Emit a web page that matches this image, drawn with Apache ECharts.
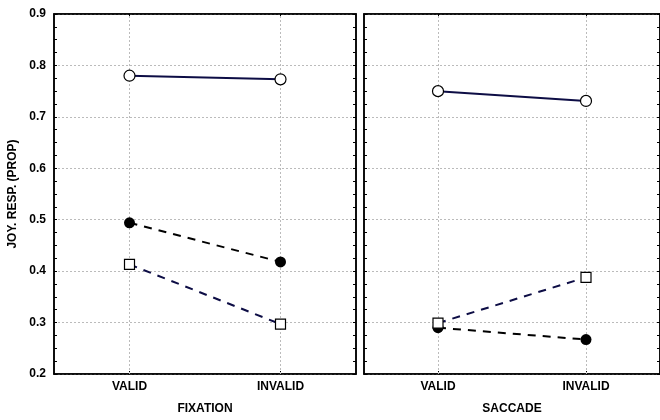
<!DOCTYPE html>
<html><head><meta charset="utf-8">
<script src="https://cdn.jsdelivr.net/npm/echarts@6/dist/echarts.min.js"></script>
<style>html,body{margin:0;padding:0;background:#fff}#c{width:660px;height:420px}</style>
</head><body><div id="c"></div>
<script>
const categories = ['VALID', 'INVALID'];
const panelNames = ['FIXATION', 'SACCADE'];
const yTicks = [0.2, 0.3, 0.4, 0.5, 0.6, 0.7, 0.8, 0.9];
const yName = 'JOY. RESP. (PROP)';
// Fixation panel
const fixOpen   = [0.780, 0.773];
const fixFilled = [0.494, 0.418];
const fixSquare = [0.413, 0.297];
// Saccade panel
const sacOpen   = [0.750, 0.731];
const sacFilled = [0.290, 0.267];
const sacSquare = [0.299, 0.388];

const font = 'Liberation Sans, Arial, sans-serif';
const chart = echarts.init(document.getElementById('c'), null, {renderer: 'canvas'});
const grids = [
  {left: 54, top: 14, width: 302, height: 363, show: true, borderColor: '#000', borderWidth: 1.5, backgroundColor: '#fff'},
  {left: 364, top: 14, width: 302, height: 363, show: true, borderColor: '#000', borderWidth: 1.5, backgroundColor: '#fff'}
];
function xAx(i, name) {
  return [{
    type: 'category', gridIndex: i, data: categories, boundaryGap: true,
    name: name, nameLocation: 'middle', nameGap: 29,
    nameTextStyle: {fontFamily: font, fontWeight: 'bold', fontSize: 12, color: '#000'},
    axisLine: {show: true, lineStyle: {color: '#000', width: 1.5}},
    axisTick: {show: true, inside: true, alignWithLabel: true, length: 3, lineStyle: {color: '#000'}},
    axisLabel: {fontFamily: font, fontWeight: 'bold', fontSize: 12, color: '#000', margin: 7},
    splitLine: {show: false}
  }, {
    type: 'category', gridIndex: i, data: categories, position: 'top', boundaryGap: true,
    axisLine: {show: true, lineStyle: {color: '#000', width: 1.5}},
    axisTick: {show: true, inside: true, alignWithLabel: true, length: 3, lineStyle: {color: '#000'}},
    axisLabel: {show: false}, splitLine: {show: false}
  }];
}
function yAx(i, showLabels, name) {
  const common = {
    type: 'value', gridIndex: i, min: 0.2, max: 0.9, interval: 0.1,
    axisLine: {show: true, lineStyle: {color: '#000', width: 1.5}},
    axisTick: {show: true, inside: true, length: 3, lineStyle: {color: '#000'}},
    minorTick: {show: true, splitNumber: 4, length: 3, lineStyle: {color: '#000'}}
  };
  const a = Object.assign({}, common, {
    position: 'left',
    name: name || '', nameLocation: 'middle', nameGap: 35,
    nameTextStyle: {fontFamily: font, fontWeight: 'bold', fontSize: 12, color: '#000'},
    axisLabel: {show: showLabels, fontFamily: font, fontWeight: 'bold', fontSize: 12, color: '#000', margin: 8,
      formatter: v => yTicks.includes(Math.round(v * 10) / 10) ? v.toFixed(1) : ''},
    splitLine: {show: true, lineStyle: {color: '#bbb', type: [2, 2], width: 1}}
  });
  const b = Object.assign({}, common, {
    position: 'right', axisLabel: {show: false}, splitLine: {show: false}
  });
  return [a, b];
}
const xAxes = [...xAx(0, panelNames[0]), ...xAx(1, panelNames[1])];
const yAxes = [...yAx(0, true, yName), ...yAx(1, false, '')];

function gridLines(idx) {
  return {type: 'line', xAxisIndex: idx * 2, yAxisIndex: idx * 2, data: [], z: 1, silent: true,
    markLine: {
      z: 1, silent: true, symbol: 'none', label: {show: false}, animation: false,
      lineStyle: {color: '#bbb', type: [2, 2], width: 1},
      data: categories.map(c => ({xAxis: c}))
    }};
}
function solid(idx, data) {
  return {type: 'line', xAxisIndex: idx * 2, yAxisIndex: idx * 2, data: data,
    symbol: 'circle', symbolSize: 11,
    itemStyle: {color: '#fff', borderColor: '#000', borderWidth: 1.2},
    lineStyle: {color: '#0d0d45', width: 2}, z: 3};
}
function filled(idx, data) {
  return {type: 'line', xAxisIndex: idx * 2, yAxisIndex: idx * 2, data: data,
    symbol: 'circle', symbolSize: 11,
    itemStyle: {color: '#000', borderColor: '#000', borderWidth: 0},
    lineStyle: {color: '#000', width: 2, type: [8, 7]}, z: 2};
}
function square(idx, data) {
  return {type: 'line', xAxisIndex: idx * 2, yAxisIndex: idx * 2, data: data,
    symbol: 'rect', symbolSize: 10,
    itemStyle: {color: '#fff', borderColor: '#000', borderWidth: 1.2},
    lineStyle: {color: '#0d0d45', width: 2, type: [8, 7]}, z: 4};
}
chart.setOption({
  animation: false,
  backgroundColor: '#fff',
  grid: grids,
  xAxis: xAxes,
  yAxis: yAxes,
  series: [
    gridLines(0), gridLines(1),
    solid(0, fixOpen), filled(0, fixFilled), square(0, fixSquare),
    solid(1, sacOpen), filled(1, sacFilled), square(1, sacSquare)
  ]
});
</script></body></html>
